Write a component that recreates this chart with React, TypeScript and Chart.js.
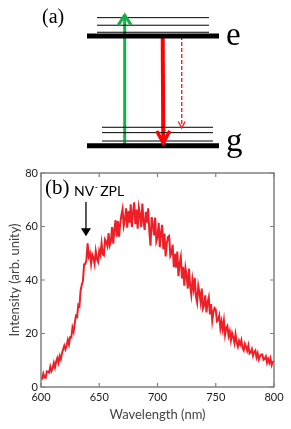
import React, { useEffect, useRef } from "react";
import { Chart, registerables } from "chart.js";

Chart.register(...registerables);

// ---------------- Panel (b): NV photoluminescence spectrum ----------------
const WAVELENGTH_START = 600; // nm
const WAVELENGTH_STEP = 1; // nm
// intensity (arb. units) sampled every 1 nm from 600 to 800 nm
const spectrum = [
  3.6, 3.2, 5.0, 3.5, 3.4, 5.8, 5.7, 5.4, 7.6, 6.0,
  7.0, 9.0, 7.3, 9.4, 10.8, 9.1, 11.6, 10.3, 12.5, 14.1,
  15.5, 14.1, 15.5, 17.6, 15.9, 18.6, 18.5, 22.2, 20.7, 23.9,
  26.6, 26.2, 30.7, 30.2, 36.1, 38.2, 39.6, 45.8, 46.0, 47.4,
  53.7, 48.8, 50.0, 46.0, 49.5, 48.3, 46.0, 50.8, 47.9, 46.8,
  51.0, 49.4, 53.7, 49.6, 49.2, 55.1, 54.2, 52.7, 57.5, 53.0,
  54.4, 59.8, 53.6, 59.0, 62.4, 56.2, 62.0, 56.2, 61.2, 64.2,
  66.5, 60.2, 62.4, 66.8, 59.6, 65.8, 61.4, 68.3, 59.8, 65.3,
  69.0, 60.9, 66.3, 59.2, 67.1, 64.5, 59.8, 68.6, 61.9, 58.7,
  65.5, 61.4, 66.8, 58.2, 52.8, 63.5, 60.6, 56.7, 63.3, 54.4,
  56.0, 61.4, 52.3, 57.7, 60.6, 51.5, 57.4, 48.8, 53.7, 56.1,
  56.5, 49.0, 50.0, 53.2, 44.8, 49.8, 44.6, 50.6, 41.4, 46.1,
  48.6, 40.6, 44.9, 37.9, 44.4, 41.5, 36.8, 44.3, 37.9, 34.6,
  40.0, 36.6, 40.8, 33.8, 31.6, 37.8, 35.2, 31.8, 36.8, 29.4,
  30.6, 34.3, 27.9, 31.6, 33.5, 27.1, 31.0, 24.8, 28.1, 29.5,
  29.0, 24.6, 25.1, 26.7, 21.9, 24.5, 21.5, 24.8, 19.5, 22.0,
  22.8, 19.1, 20.8, 17.5, 20.2, 18.7, 16.5, 19.7, 16.7, 15.1,
  17.3, 15.9, 17.5, 14.6, 13.7, 16.1, 15.0, 13.6, 15.5, 12.5,
  13.0, 14.2, 11.7, 13.0, 13.6, 11.1, 12.6, 10.3, 11.5, 12.1,
  12.2, 10.2, 10.5, 11.4, 9.1, 10.5, 9.1, 10.7, 8.2, 9.4,
  9.6,
];
const xTicks = [600, 650, 700, 750, 800];
const yTicks = [0, 20, 40, 60, 80];
const xRange = [600, 800];
const yRange = [0, 80];

// annotation: NV- zero-phonon line
const zplWavelength = 638.6;
const zplArrowFrom = 69.2;
const zplArrowTo = 56.4;

// ---------------- Panel (a): energy level diagram ----------------
const groundEnergy = 0;
const excitedEnergy = 10;
const groundVibrational = [0.43, 1.19, 1.68];
const excitedVibrational = [10.34, 10.98, 11.67];
const pumpEnergyTop = 11.9; // green excitation arrow tip
const emissionEnd = 0.25; // solid red arrow tip
const phononEmissionEnd = 1.61; // dashed red arrow tip

const SERIF = '"Liberation Serif", "Times New Roman", serif';
const SANS = 'Lato, "Open Sans", sans-serif';

function drawArrowHead(ctx, tipX, tipY, fromX, fromY, len, half, width, color, filled) {
  const ang = Math.atan2(tipY - fromY, tipX - fromX);
  const bx = tipX - Math.cos(ang) * len;
  const by = tipY - Math.sin(ang) * len;
  const px = -Math.sin(ang) * half;
  const py = Math.cos(ang) * half;
  ctx.save();
  ctx.strokeStyle = color;
  ctx.fillStyle = color;
  ctx.lineWidth = width;
  ctx.lineJoin = "miter";
  ctx.lineCap = "butt";
  ctx.setLineDash([]);
  ctx.beginPath();
  ctx.moveTo(bx + px, by + py);
  ctx.lineTo(tipX, tipY);
  ctx.lineTo(bx - px, by - py);
  if (filled) {
    ctx.closePath();
    ctx.fill();
  } else {
    ctx.stroke();
  }
  ctx.restore();
}

function LevelDiagram() {
  const ref = useRef(null);
  useEffect(() => {
    const seg = (x1, x2, y1, y2, color, width, extra = {}) => ({
      data: [
        { x: x1, y: y1 },
        { x: x2, y: y2 },
      ],
      showLine: true,
      borderColor: color,
      backgroundColor: color,
      borderWidth: width,
      pointRadius: 0,
      borderCapStyle: "butt",
      ...extra,
    });
    const datasets = [
      seg(87, 219, groundEnergy, groundEnergy, "#000", 5),
      seg(87, 219, excitedEnergy, excitedEnergy, "#000", 5),
      ...excitedVibrational.map((e) => seg(97, 209, e, e, "#000", 1)),
      ...groundVibrational.map((e, i) => seg(102, 213, e, e, i === 0 ? "#555" : "#000", i === 0 ? 1.6 : 1)),
      seg(124.7, 124.7, groundEnergy, pumpEnergyTop, "#16b04a", 3, {
        arrowHead: { len: 10, half: 6.5, width: 3, filled: false },
      }),
      seg(162.7, 163.3, excitedEnergy, emissionEnd, "#ff0000", 4, {
        arrowHead: { len: 12, half: 6.5, width: 3.5, filled: false },
      }),
      seg(181.7, 181.7, excitedEnergy, phononEmissionEnd, "#ff2020", 1.4, {
        borderDash: [4, 2],
        arrowHead: { len: 6.5, half: 3.4, width: 1.4, filled: false },
      }),
    ];
    const plugin = {
      id: "levelDecor",
      afterDatasetsDraw(chart) {
        const ctx = chart.ctx;
        chart.data.datasets.forEach((ds, i) => {
          if (!ds.arrowHead) return;
          const pts = chart.getDatasetMeta(i).data;
          const a = pts[0];
          const b = pts[pts.length - 1];
          const h = ds.arrowHead;
          drawArrowHead(ctx, b.x, b.y, a.x, a.y, h.len, h.half, h.width, ds.borderColor, h.filled);
        });
        const xs = chart.scales.x;
        const ys = chart.scales.y;
        ctx.save();
        ctx.fillStyle = "#000";
        ctx.textBaseline = "alphabetic";
        ctx.textAlign = "left";
        ctx.font = `20px ${SERIF}`;
        ctx.fillText("(a)", xs.getPixelForValue(42), ys.getPixelForValue(11.15));
        ctx.font = `33px ${SERIF}`;
        ctx.fillText("e", xs.getPixelForValue(226), ys.getPixelForValue(9.18));
        ctx.fillText("g", xs.getPixelForValue(226), ys.getPixelForValue(-0.44));
        ctx.restore();
      },
    };
    const chart = new Chart(ref.current, {
      type: "scatter",
      data: { datasets },
      options: {
        animation: false,
        responsive: false,
        events: [],
        layout: { padding: 0, autoPadding: false },
        plugins: { legend: { display: false }, tooltip: { enabled: false } },
        scales: {
          x: { type: "linear", min: 0, max: 291, display: false },
          y: { type: "linear", min: -1.121, max: 13.28, display: false },
        },
      },
      plugins: [plugin],
    });
    return () => chart.destroy();
  }, []);
  return <canvas ref={ref} width={291} height={158} style={{ display: "block", width: 291, height: 158 }} />;
}

function Spectrum() {
  const ref = useRef(null);
  useEffect(() => {
    const points = spectrum.map((v, i) => ({ x: WAVELENGTH_START + i * WAVELENGTH_STEP, y: v }));
    const frame = {
      id: "frame",
      afterDraw(chart) {
        const { ctx, chartArea: ca } = chart;
        const xs = chart.scales.x;
        const ys = chart.scales.y;
        ctx.save();
        ctx.strokeStyle = "#808080";
        ctx.lineWidth = 1.5;
        ctx.strokeRect(ca.left, ca.top, ca.right - ca.left, ca.bottom - ca.top);
        ctx.lineWidth = 1.2;
        ctx.beginPath();
        xTicks.forEach((v) => {
          const px = xs.getPixelForValue(v);
          ctx.moveTo(px, ca.bottom);
          ctx.lineTo(px, ca.bottom - 4);
          ctx.moveTo(px, ca.top);
          ctx.lineTo(px, ca.top + 4);
        });
        yTicks.forEach((v) => {
          const py = ys.getPixelForValue(v);
          ctx.moveTo(ca.left, py);
          ctx.lineTo(ca.left + 4, py);
          ctx.moveTo(ca.right, py);
          ctx.lineTo(ca.right - 4, py);
        });
        ctx.stroke();

        // (b) label
        ctx.fillStyle = "#000";
        ctx.textBaseline = "alphabetic";
        ctx.textAlign = "left";
        ctx.font = `21px ${SERIF}`;
        ctx.fillText("(b)", xs.getPixelForValue(603.4), ys.getPixelForValue(72.2));
        // NV- ZPL label
        ctx.font = `14px ${SANS}`;
        const lx = xs.getPixelForValue(628.3);
        const ly = ys.getPixelForValue(71.5);
        ctx.fillText("NV", lx, ly);
        const nvW = ctx.measureText("NV").width;
        ctx.font = `9px ${SANS}`;
        ctx.fillText("-", lx + nvW + 0.5, ly - 6);
        ctx.font = `14px ${SANS}`;
        ctx.fillText("ZPL", lx + nvW + 6, ly);
        // arrow
        const ax = xs.getPixelForValue(zplWavelength);
        const ay1 = ys.getPixelForValue(zplArrowFrom);
        const ay2 = ys.getPixelForValue(zplArrowTo);
        ctx.strokeStyle = "#000";
        ctx.lineWidth = 1.3;
        ctx.beginPath();
        ctx.moveTo(ax, ay1);
        ctx.lineTo(ax, ay2 - 6);
        ctx.stroke();
        drawArrowHead(ctx, ax, ay2, ax, ay1, 8, 5, 1, "#000", true);
        ctx.restore();
      },
    };
    const chart = new Chart(ref.current, {
      type: "line",
      data: {
        datasets: [
          {
            data: points,
            borderColor: "#ee1f26",
            borderWidth: 2,
            pointRadius: 0,
            tension: 0,
          },
        ],
      },
      options: {
        animation: false,
        responsive: false,
        events: [],
        parsing: true,
        layout: { padding: { top: 18, right: 17, left: 0, bottom: 0 }, autoPadding: false },
        plugins: { legend: { display: false }, tooltip: { enabled: false } },
        scales: {
          x: {
            type: "linear",
            min: xRange[0],
            max: xRange[1],
            afterBuildTicks: (s) => {
              s.ticks = xTicks.map((v) => ({ value: v }));
            },
            afterFit: (s) => {
              s.height = 42;
            },
            grid: { display: false, drawTicks: false },
            border: { display: false },
            ticks: {
              padding: 4,
              maxRotation: 0,
              autoSkip: false,
              color: "#1a1a1a",
              font: { family: SANS, size: 11 },
            },
            title: {
              display: true,
              text: "Wavelength (nm)",
              color: "#444",
              font: { family: SANS, size: 13 },
              padding: { top: 0, bottom: 6 },
            },
          },
          y: {
            type: "linear",
            min: yRange[0],
            max: yRange[1],
            afterBuildTicks: (s) => {
              s.ticks = yTicks.map((v) => ({ value: v }));
            },
            afterFit: (s) => {
              s.width = 41;
            },
            grid: { display: false, drawTicks: false },
            border: { display: false },
            ticks: {
              padding: 3,
              autoSkip: false,
              color: "#1a1a1a",
              font: { family: SANS, size: 11 },
            },
            title: {
              display: true,
              text: "Intensity (arb. unity)",
              color: "#444",
              font: { family: SANS, size: 13 },
              padding: { top: 7, bottom: 0 },
            },
          },
        },
      },
      plugins: [frame],
    });
    return () => chart.destroy();
  }, []);
  return <canvas ref={ref} width={291} height={274} style={{ display: "block", width: 291, height: 274 }} />;
}

export default function App() {
  return (
    <div style={{ position: "absolute", left: 0, top: 0, width: 291, height: 429, background: "#fff" }}>
      <div style={{ position: "absolute", left: 0, top: 0 }}>
        <LevelDiagram />
      </div>
      <div style={{ position: "absolute", left: 0, top: 155 }}>
        <Spectrum />
      </div>
    </div>
  );
}
